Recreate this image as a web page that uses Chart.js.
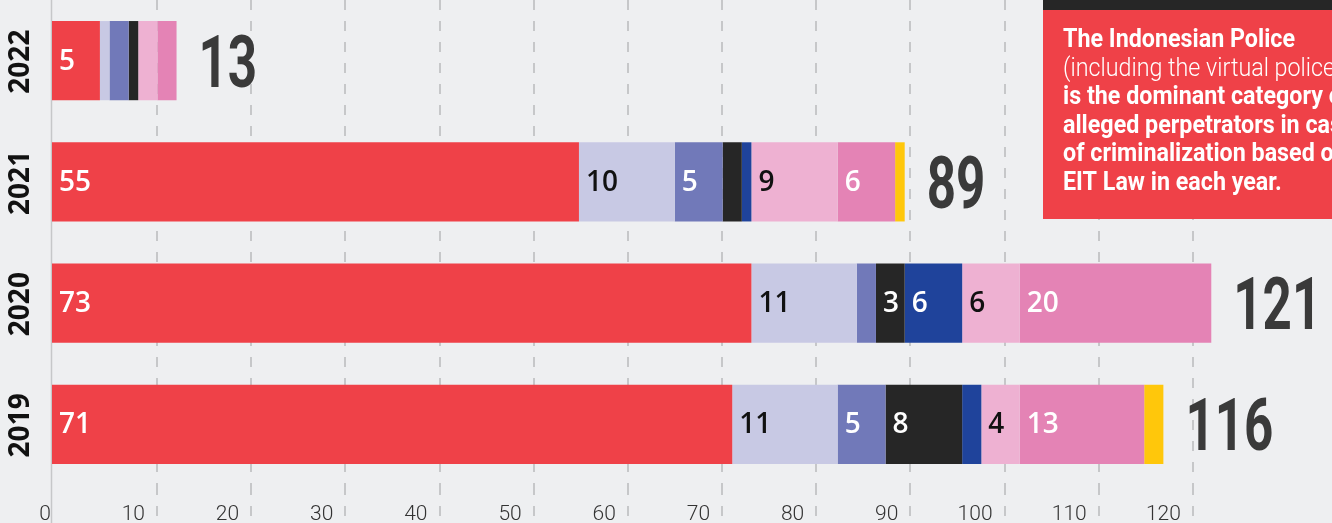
<!DOCTYPE html>
<html>
<head>
<meta charset="utf-8">
<script src="https://cdn.jsdelivr.net/npm/chart.js@4.4.1/dist/chart.umd.min.js"></script>
<style>
html,body{margin:0;padding:0;background:#eeeff1;overflow:hidden}
#wrap{position:relative;width:1332px;height:523px}
canvas{display:block}
</style>
</head>
<body>
<div id="wrap"><canvas id="c" width="1332" height="523"></canvas></div>
<script>
// ---- data ----
const years = ['2022', '2021', '2020', '2019'];
const seriesNames = ['Police (incl. virtual police)', 'Category 2', 'Category 3', 'Category 4', 'Category 5', 'Category 6', 'Category 7', 'Category 8'];
const policeValues   = [5, 55, 73, 71];
const lavenderValues = [1, 10, 11, 11];
const purpleValues   = [2, 5, 2, 5];
const blackValues    = [1, 2, 3, 8];
const blueValues     = [0, 1, 6, 2];
const lightPinkValues= [2, 9, 6, 4];
const pinkValues     = [2, 6, 20, 13];
const yellowValues   = [0, 1, 0, 2];
const tickValues = [0, 10, 20, 30, 40, 50, 60, 70, 80, 90, 100, 110, 120];
const tickLabels = ['0', '10', '20', '30', '40', '50', '60', '70', '80', '90', '100', '110', '120'];
const calloutLines = [
  {text: 'The Indonesian Police', bold: true},
  {text: '(including the virtual police)', bold: false},
  {text: 'is the dominant category of', bold: true},
  {text: 'alleged perpetrators in cases', bold: true},
  {text: 'of criminalization based on', bold: true},
  {text: 'EIT Law in each year.', bold: true}
];

// ---- styles ----
const seriesValues = [policeValues, lavenderValues, purpleValues, blackValues, blueValues, lightPinkValues, pinkValues, yellowValues];
const colors = ['#ef4148', '#c8c9e4', '#7179b9', '#262626', '#1f439b', '#eeb1d2', '#e483b5', '#ffc70b'];
const labelColors = ['#ffffff', '#111111', '#ffffff', '#ffffff', '#ffffff', '#111111', '#ffffff', '#111111'];
const BG = '#eeeff1';
const GRID = '#c6c7c9';

const datasets = seriesValues.map((vals, i) => ({
  label: seriesNames[i],
  data: vals,
  backgroundColor: colors[i],
  borderWidth: 0,
  barPercentage: 0.653,
  categoryPercentage: 1
}));

const decor = {
  id: 'decor',
  beforeDraw(chart) {
    const ctx = chart.ctx;
    ctx.save();
    ctx.fillStyle = BG;
    ctx.fillRect(0, 0, chart.width, chart.height);
    ctx.restore();
  },
  beforeDatasetsDraw(chart) {
    const ctx = chart.ctx;
    const x0 = chart.scales.x.getPixelForValue(0) - 0.5;
    ctx.save();
    ctx.strokeStyle = GRID;
    ctx.lineWidth = 1.5;
    ctx.beginPath();
    ctx.moveTo(x0, 0);
    ctx.lineTo(x0, chart.height);
    ctx.stroke();
    ctx.restore();
  },
  afterDatasetsDraw(chart) {
    const ctx = chart.ctx;
    const xs = chart.scales.x, ys = chart.scales.y;
    ctx.save();
    // segment labels
    ctx.font = '600 28px "Open Sans"';
    ctx.textAlign = 'left';
    ctx.textBaseline = 'middle';
    chart.data.datasets.forEach((ds, di) => {
      const meta = chart.getDatasetMeta(di);
      meta.data.forEach((bar, i) => {
        const v = ds.data[i];
        if (v < 3) return;
        const p = bar.getProps(['x', 'y', 'base'], true);
        ctx.fillStyle = labelColors[di];
        ctx.fillText(String(v), Math.min(p.base, p.x) + 7, p.y + 1);
      });
    });
    // totals
    ctx.fillStyle = '#3a3a3a';
    ctx.font = '700 73px Roboto';
    ctx.textBaseline = 'alphabetic';
    years.forEach((yr, i) => {
      const total = seriesValues.reduce((s, arr) => s + arr[i], 0);
      const px = xs.getPixelForValue(total) + 22;
      const py = ys.getPixelForValue(i);
      ctx.save();
      ctx.translate(px, py + 26);
      ctx.scale(0.7, 1);
      ctx.fillText(String(total), 0, 0);
      ctx.restore();
    });
    // year labels
    ctx.fillStyle = '#111111';
    ctx.font = '700 28px "Noto Sans"';
    ctx.textAlign = 'center';
    ctx.textBaseline = 'middle';
    years.forEach((yr, i) => {
      const py = ys.getPixelForValue(i);
      ctx.save();
      ctx.translate(21, py + 1);
      ctx.rotate(-Math.PI / 2);
      ctx.fillText(yr, 0, 0);
      ctx.restore();
    });
    ctx.restore();
  },
  afterDraw(chart) {
    const ctx = chart.ctx;
    ctx.save();
    ctx.fillStyle = '#262626';
    ctx.fillRect(1043, 0, 300, 10);
    ctx.fillStyle = '#ef4148';
    ctx.fillRect(1043, 10, 300, 209);
    ctx.font = '700 26px Roboto';
    const s = 232 / ctx.measureText(calloutLines[0].text).width;
    ctx.fillStyle = '#ffffff';
    ctx.textAlign = 'left';
    ctx.textBaseline = 'alphabetic';
    calloutLines.forEach((ln, i) => {
      ctx.save();
      ctx.font = (ln.bold ? '700' : '300') + ' 26px Roboto';
      ctx.translate(1063, 47 + i * 28.5);
      ctx.scale(s, 1);
      ctx.fillText(ln.text, 0, 0);
      ctx.restore();
    });
    ctx.restore();
  }
};

new Chart(document.getElementById('c'), {
  type: 'bar',
  data: { labels: years, datasets },
  options: {
    indexAxis: 'y',
    responsive: false,
    animation: false,
    devicePixelRatio: 1,
    layout: { padding: 0 },
    plugins: { legend: { display: false }, tooltip: { enabled: false } },
    scales: {
      x: { type: 'linear', stacked: true, min: 0, max: 133.6, display: false },
      y: {
        type: 'category', stacked: true, offset: true,
        grid: { display: false }, border: { display: false },
        ticks: { display: false },
        afterFit(s) { s.width = 52; }
      },
      xg: {
        type: 'linear', position: 'bottom', min: -1.147, max: 134.77,
        afterBuildTicks(s) { s.ticks = tickValues.map(v => ({ value: v })); },
        ticks: {
          autoSkip: false, maxRotation: 0, minRotation: 0,
          callback: (v, i) => tickLabels[i],
          align: 'end', labelOffset: -12, padding: -21,
          color: '#333333',
          font: { family: 'Roboto', size: 21, weight: '300' }
        },
        grid: {
          color: c => (c.tick && c.tick.value === 0) ? 'rgba(0,0,0,0)' : GRID,
          tickColor: c => (c.tick && c.tick.value === 0) ? 'rgba(0,0,0,0)' : GRID,
          lineWidth: 2, tickWidth: 2, drawTicks: true, tickLength: 38,
          borderDash: [10, 11], tickBorderDash: [10, 11]
        },
        border: { display: false, dash: [10, 11] },
        afterFit(s) { s.height = 38; }
      }
    }
  },
  plugins: [decor]
});
</script>
</body>
</html>
